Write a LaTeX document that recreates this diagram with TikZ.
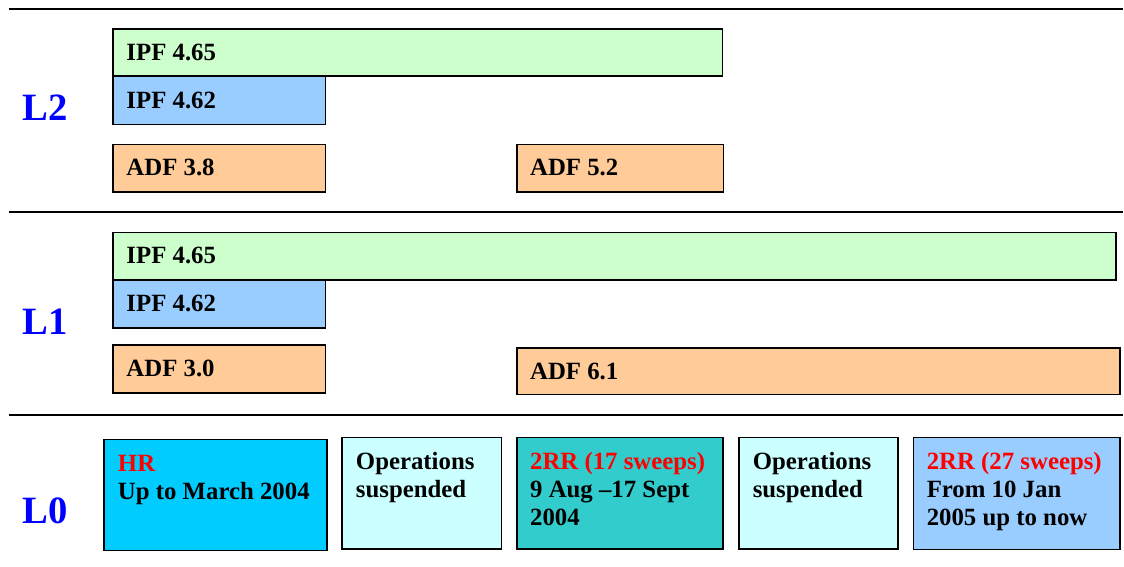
\documentclass[tikz,border=0pt]{standalone}
\usepackage{fontspec}
\setmainfont{Liberation Serif}
\usetikzlibrary{fit,calc}
\definecolor{cgreen}{HTML}{CCFFCC}
\definecolor{cblue}{HTML}{99CCFF}
\definecolor{corange}{HTML}{FFCC99}
\definecolor{ccyan}{HTML}{00CCFF}
\definecolor{clcyan}{HTML}{CCFFFF}
\definecolor{cteal}{HTML}{33CCCC}
\definecolor{cred}{HTML}{FF0000}
\definecolor{clabel}{HTML}{0000FF}
\begin{document}
\begin{tikzpicture}[x=0.75pt,y=-0.75pt,
  box/.style={draw=black, line width=1.2pt, inner sep=0pt},
  sep/.style={draw=black, line width=1.3pt},
  txt/.style={font=\bfseries\fontsize{18.6}{21.3}\selectfont, inner sep=0pt, anchor=base west},
  mtxt/.style={font=\bfseries\fontsize{18.6}{21.3}\selectfont, inner sep=0pt, anchor=north west, align=left},
  lvl/.style={font=\bfseries\fontsize{29}{34}\selectfont, text=clabel, inner sep=0pt, anchor=base west}]
\useasboundingbox (0,0) rectangle (1124,567);

% separators
\coordinate (s1a) at (8.5,9); \coordinate (s1b) at (1123,9);
\coordinate (s2a) at (8.5,212); \coordinate (s2b) at (1123,212);
\coordinate (s3a) at (8.5,415); \coordinate (s3b) at (1123,415);
\draw[sep] (s1a) -- (s1b);
\draw[sep] (s2a) -- (s2b);
\draw[sep] (s3a) -- (s3b);

% level labels
\node[lvl] (l2) at (22.7,120.7) {L2};
\node[lvl] (l1) at (22.7,334.3) {L1};
\node[lvl] (l0) at (22.7,523.6) {L0};

% L2 bars
\node[box, fill=cgreen, fit={(113,29.3) (722.5,76)}] (a1) {};
\node[box, fill=cblue, fit={(113,76) (325.5,124.3)}] (a2) {};
\node[box, fill=corange, fit={(113,144.3) (325.5,191.8)}] (a3) {};
\node[box, fill=corange, fit={(516.7,144.3) (723.3,191.8)}] (a4) {};
\node[txt] (ta1) at ($(a1.west)+(14,7.5)$) {IPF 4.65};
\node[txt] (ta2) at ($(a2.west)+(14,8)$) {IPF 4.62};
\node[txt] (ta3) at ($(a3.west)+(14,7.7)$) {ADF 3.8};
\node[txt] (ta4) at ($(a4.west)+(14,7.7)$) {ADF 5.2};

% L1 bars
\node[box, fill=cgreen, fit={(113,232.3) (1115.7,280)}] (b1) {};
\node[box, fill=cblue, fit={(113,280) (325.5,327.7)}] (b2) {};
\node[box, fill=corange, fit={(113,345) (325.5,393)}] (b3) {};
\node[box, fill=corange, fit={(516.7,347.7) (1120,394.3)}] (b4) {};
\node[txt] (tb1) at ($(b1.west)+(14,7.7)$) {IPF 4.65};
\node[txt] (tb2) at ($(b2.west)+(14,7.5)$) {IPF 4.62};
\node[txt] (tb3) at ($(b3.west)+(14,7.5)$) {ADF 3.0};
\node[txt] (tb4) at ($(b4.west)+(14,8)$) {ADF 6.1};

% L0 boxes
\node[box, fill=ccyan, fit={(104,439.3) (326.7,550.5)}] (c1) {};
\node[box, fill=clcyan, fit={(342,437.3) (501.3,549)}] (c2) {};
\node[box, fill=cteal, fit={(516.7,437.3) (723,549)}] (c3) {};
\node[box, fill=clcyan, fit={(738.8,437.3) (897.7,549)}] (c4) {};
\node[box, fill=cblue, fit={(913.3,437.3) (1120,549.3)}] (c5) {};

\node[mtxt] (tc1) at ($(c1.north west)+(14.5,12.5)$) {\strut\textcolor{cred}{HR}\\Up to March 2004};
\node[mtxt] (tc2) at ($(c2.north west)+(14.5,12.5)$) {\strut Operations\\suspended};
\node[mtxt] (tc3) at ($(c3.north west)+(14,12.5)$) {\strut\textcolor{cred}{2RR (17 sweeps)}\\9 Aug –17 Sept\\2004};
\node[mtxt] (tc4) at ($(c4.north west)+(14.5,12.5)$) {\strut Operations\\suspended};
\node[mtxt] (tc5) at ($(c5.north west)+(14,12.5)$) {\strut\textcolor{cred}{2RR (27 sweeps)}\\From 10 Jan\\2005 up to now};
\end{tikzpicture}
\end{document}
